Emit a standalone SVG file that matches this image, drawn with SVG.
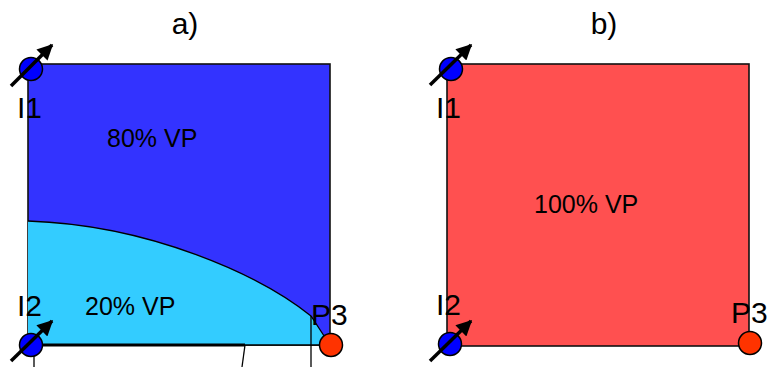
<svg xmlns="http://www.w3.org/2000/svg" width="772" height="367" viewBox="0 0 772 367">
<defs>
<style>
text{font-family:"Liberation Sans",Arial,sans-serif;fill:#000}
.lbl{font-size:30px}
.pct{font-size:25px}
.sq{stroke:#111;stroke-width:1.6}
.ln{stroke:#000;stroke-width:1.3;fill:none}
.inj{fill:#0000ff;stroke:#000;stroke-width:1.5}
.prd{fill:#ff3300;stroke:#000;stroke-width:1.5}
.arr{stroke:#000;stroke-width:3.5;fill:none;marker-end:url(#ah)}
</style>
<marker id="ah" viewBox="0 0 10 10" refX="9" refY="5" markerWidth="5" markerHeight="4.5" orient="auto" markerUnits="strokeWidth">
<path d="M0,0 L10,5 L0,10 z" fill="#000"/>
</marker>
</defs>
<text class="lbl" x="185" y="34" text-anchor="middle">a)</text>
<text class="lbl" x="604" y="34" text-anchor="middle">b)</text>
<g id="zoneA">
<rect class="sq" x="28" y="64" width="302" height="281" fill="#3333ff"/>
<path d="M28,221 C150,225 260,275 311,316 L330,345 L28,345 Z" fill="#33ccff"/>
<path class="ln" d="M28,221 C150,225 260,275 311,316 L330,345"/>
<line x1="28" y1="345" x2="330" y2="345" stroke="#000" stroke-width="1.6"/>
<line x1="28" y1="345" x2="245" y2="345" stroke="#000" stroke-width="3"/>
</g>
<g id="zoneB">
<rect class="sq" x="447" y="64" width="302" height="282" fill="#ff5050"/>
</g>
<g id="connectors">
<line class="ln" x1="34" y1="345" x2="34" y2="367"/>
<line class="ln" x1="245" y1="345" x2="242" y2="367"/>
<line class="ln" x1="311" y1="316" x2="311" y2="367"/>
</g>
<g id="textA">
<text class="pct" x="107" y="147">80% VP</text>
<text class="pct" x="85" y="315">20% VP</text>
</g>
<g id="textB">
<text class="pct" x="534" y="213">100% VP</text>
</g>
<g id="a-I1">
<circle class="inj" cx="31" cy="69" r="11.5"/>
<line class="arr" x1="11" y1="86" x2="52" y2="45"/>
<text class="lbl" x="17" y="118">I1</text>
</g>
<g id="a-I2">
<circle class="inj" cx="31" cy="345" r="11.5"/>
<line class="arr" x1="11" y1="361" x2="52" y2="321"/>
<text class="lbl" x="17" y="316">I2</text>
</g>
<g id="a-P3">
<circle class="prd" cx="331" cy="345" r="11.5"/>
<text class="lbl" x="311" y="325">P3</text>
</g>
<g id="b-I1">
<circle class="inj" cx="451" cy="69" r="11.5"/>
<line class="arr" x1="430" y1="85" x2="471" y2="45"/>
<text class="lbl" x="436" y="118">I1</text>
</g>
<g id="b-I2">
<circle class="inj" cx="450" cy="344" r="11.5"/>
<line class="arr" x1="430" y1="361" x2="471" y2="321"/>
<text class="lbl" x="436" y="315">I2</text>
</g>
<g id="b-P3">
<circle class="prd" cx="750" cy="343" r="11.5"/>
<text class="lbl" x="731" y="323">P3</text>
</g>
</svg>
